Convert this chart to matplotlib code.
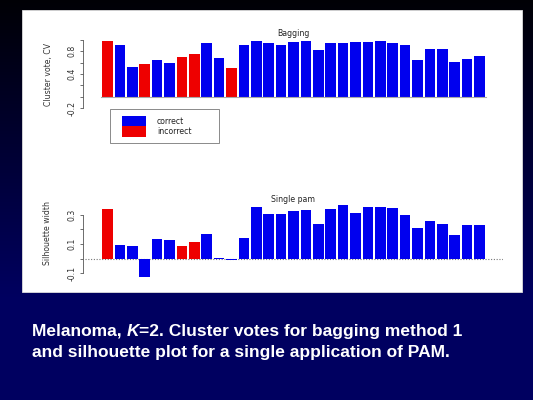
import numpy as np
import matplotlib.pyplot as plt
from matplotlib.patches import Rectangle

# cluster votes (bagging) and silhouette widths (single PAM), 31 samples
cv_votes = [0.99, 0.91, 0.52, 0.58, 0.65, 0.59, 0.70, 0.75, 0.95, 0.69, 0.50,
            0.92, 0.98, 0.94, 0.92, 0.97, 0.99, 0.82, 0.95, 0.94, 0.96, 0.97,
            0.99, 0.95, 0.92, 0.65, 0.84, 0.84, 0.61, 0.66, 0.72]
cv_correct = [0, 1, 1, 0, 1, 1, 0, 0, 1, 1, 0,
              1, 1, 1, 1, 1, 1, 1, 1, 1, 1, 1,
              1, 1, 1, 1, 1, 1, 1, 1, 1]
sil_width = [0.343, 0.094, 0.087, -0.124, 0.136, 0.129, 0.087, 0.117, 0.166, 0.005, -0.012,
             0.143, 0.352, 0.308, 0.308, 0.324, 0.333, 0.237, 0.343, 0.368, 0.313, 0.352,
             0.352, 0.349, 0.299, 0.209, 0.260, 0.237, 0.161, 0.232, 0.232]
sil_correct = [0, 1, 1, 1, 1, 1, 0, 0, 1, 1, 1,
               1, 1, 1, 1, 1, 1, 1, 1, 1, 1, 1,
               1, 1, 1, 1, 1, 1, 1, 1, 1]
legend_labels = ["correct", "incorrect"]

BLUE = "#0000ee"
RED = "#ee0000"
W, H = 533, 400
FS = 5.6


def fx(px):
    return px / W


def fy(py):
    return 1 - py / H


fig = plt.figure(figsize=(5.33, 4), dpi=100)

# slide background gradient
bg = fig.add_axes([0, 0, 1, 1], zorder=-10)
rows = np.linspace(0, 1, 400)
blue_ch = np.clip(0.02 + 0.36 * rows / 0.75, 0, 0.38)
img = np.zeros((400, 1, 3))
img[:, 0, 2] = blue_ch
bg.imshow(img, aspect="auto", extent=[0, 1, 1, 0])
bg.set_xlim(0, 1)
bg.set_ylim(1, 0)
bg.axis("off")

# white panel
fig.patches.append(Rectangle((fx(22), fy(292)), fx(522) - fx(22), fy(10) - fy(292),
                             transform=fig.transFigure, facecolor="white",
                             edgecolor="#dddddd", lw=0.6, zorder=-5))

x = np.arange(1, len(cv_votes) + 1)
xlim = (-0.98, 32.9)
ax_l, ax_w = fx(83), fx(503) - fx(83)


def style_axis(ax, ticks, labels, lo, hi):
    ax.set_xlim(*xlim)
    ax.patch.set_alpha(0)
    for s in ["top", "right", "bottom"]:
        ax.spines[s].set_visible(False)
    ax.spines["left"].set_bounds(lo, hi)
    ax.spines["left"].set_linewidth(0.6)
    ax.spines["left"].set_color("#555555")
    ax.set_xticks([])
    ax.set_yticks(ticks)
    ax.set_yticklabels(labels, rotation=90, va="center", fontsize=FS, color="#333333")
    ax.tick_params(axis="y", length=2, width=0.6, pad=2.5, color="#555555")


# top: bagging cluster votes
ax1 = fig.add_axes([ax_l, fy(108), ax_w, fy(40) - fy(108)])
ax1.set_ylim(-0.2, 1.0)
ax1.bar(x, cv_votes, width=0.86, color=[BLUE if c else RED for c in cv_correct],
        clip_on=False)
ax1.plot([0.5, 31.5], [0, 0], color="#aaaaaa", lw=0.8, zorder=1)
style_axis(ax1, [-0.2, 0.0, 0.2, 0.4, 0.6, 0.8, 1.0],
           ["-0.2", "", "", "0.4", "", "0.8", ""], -0.2, 1.0)
fig.text(fx(293), fy(34), "Bagging", ha="center", va="center", fontsize=FS, color="#222222")
fig.text(fx(48), fy(75), "Cluster vote, CV", rotation=90, ha="center", va="center",
         fontsize=FS, color="#333333")

# legend box
fig.patches.append(Rectangle((fx(110), fy(143)), fx(219) - fx(110), fy(109) - fy(143),
                             transform=fig.transFigure, facecolor="white",
                             edgecolor="#777777", lw=0.6))
for i, (lab, col) in enumerate(zip(legend_labels, [BLUE, RED])):
    top = 116 + i * 10.5
    fig.patches.append(Rectangle((fx(122), fy(top + 10.5)), fx(146) - fx(122),
                                 fy(top) - fy(top + 10.5), transform=fig.transFigure,
                                 facecolor=col, edgecolor="none"))
    fig.text(fx(157), fy(top + 5), lab, ha="left", va="center", fontsize=FS, color="#222222")

# bottom: single pam silhouette
ax2 = fig.add_axes([ax_l, fy(277.7), ax_w, fy(203.2) - fy(277.7)])
ax2.set_ylim(-0.13, 0.38)
ax2.bar(x, sil_width, width=0.86, color=[BLUE if c else RED for c in sil_correct])
ax2.plot([-0.8, 32.9], [0, 0], color="#777777", lw=0.8, ls=(0, (1, 1.5)), zorder=0)
style_axis(ax2, [-0.1, 0.0, 0.1, 0.2, 0.3], ["-0.1", "", "0.1", "", "0.3"], -0.1, 0.3)
fig.text(fx(293), fy(199), "Single pam", ha="center", va="center", fontsize=FS, color="#222222")
fig.text(fx(48), fy(233), "Silhouette width", rotation=90, ha="center", va="center",
         fontsize=FS, color="#333333")

# caption with italic K
cap = dict(fontsize=12.5, color="white", fontweight="bold", family="Liberation Sans",
           va="baseline")
renderer = fig.canvas.get_renderer()
t1 = fig.text(fx(32), fy(336), "Melanoma, ", **cap)
x1 = t1.get_window_extent(renderer).x1
t2 = fig.text(x1 / W, fy(336), "K", style="italic", **cap)
x2 = t2.get_window_extent(renderer).x1
fig.text(x2 / W, fy(336), "=2. Cluster votes for bagging method 1", **cap)
fig.text(fx(32), fy(357.5), "and silhouette plot for a single application of PAM.", **cap)

fig.savefig("out.png", dpi=100)
